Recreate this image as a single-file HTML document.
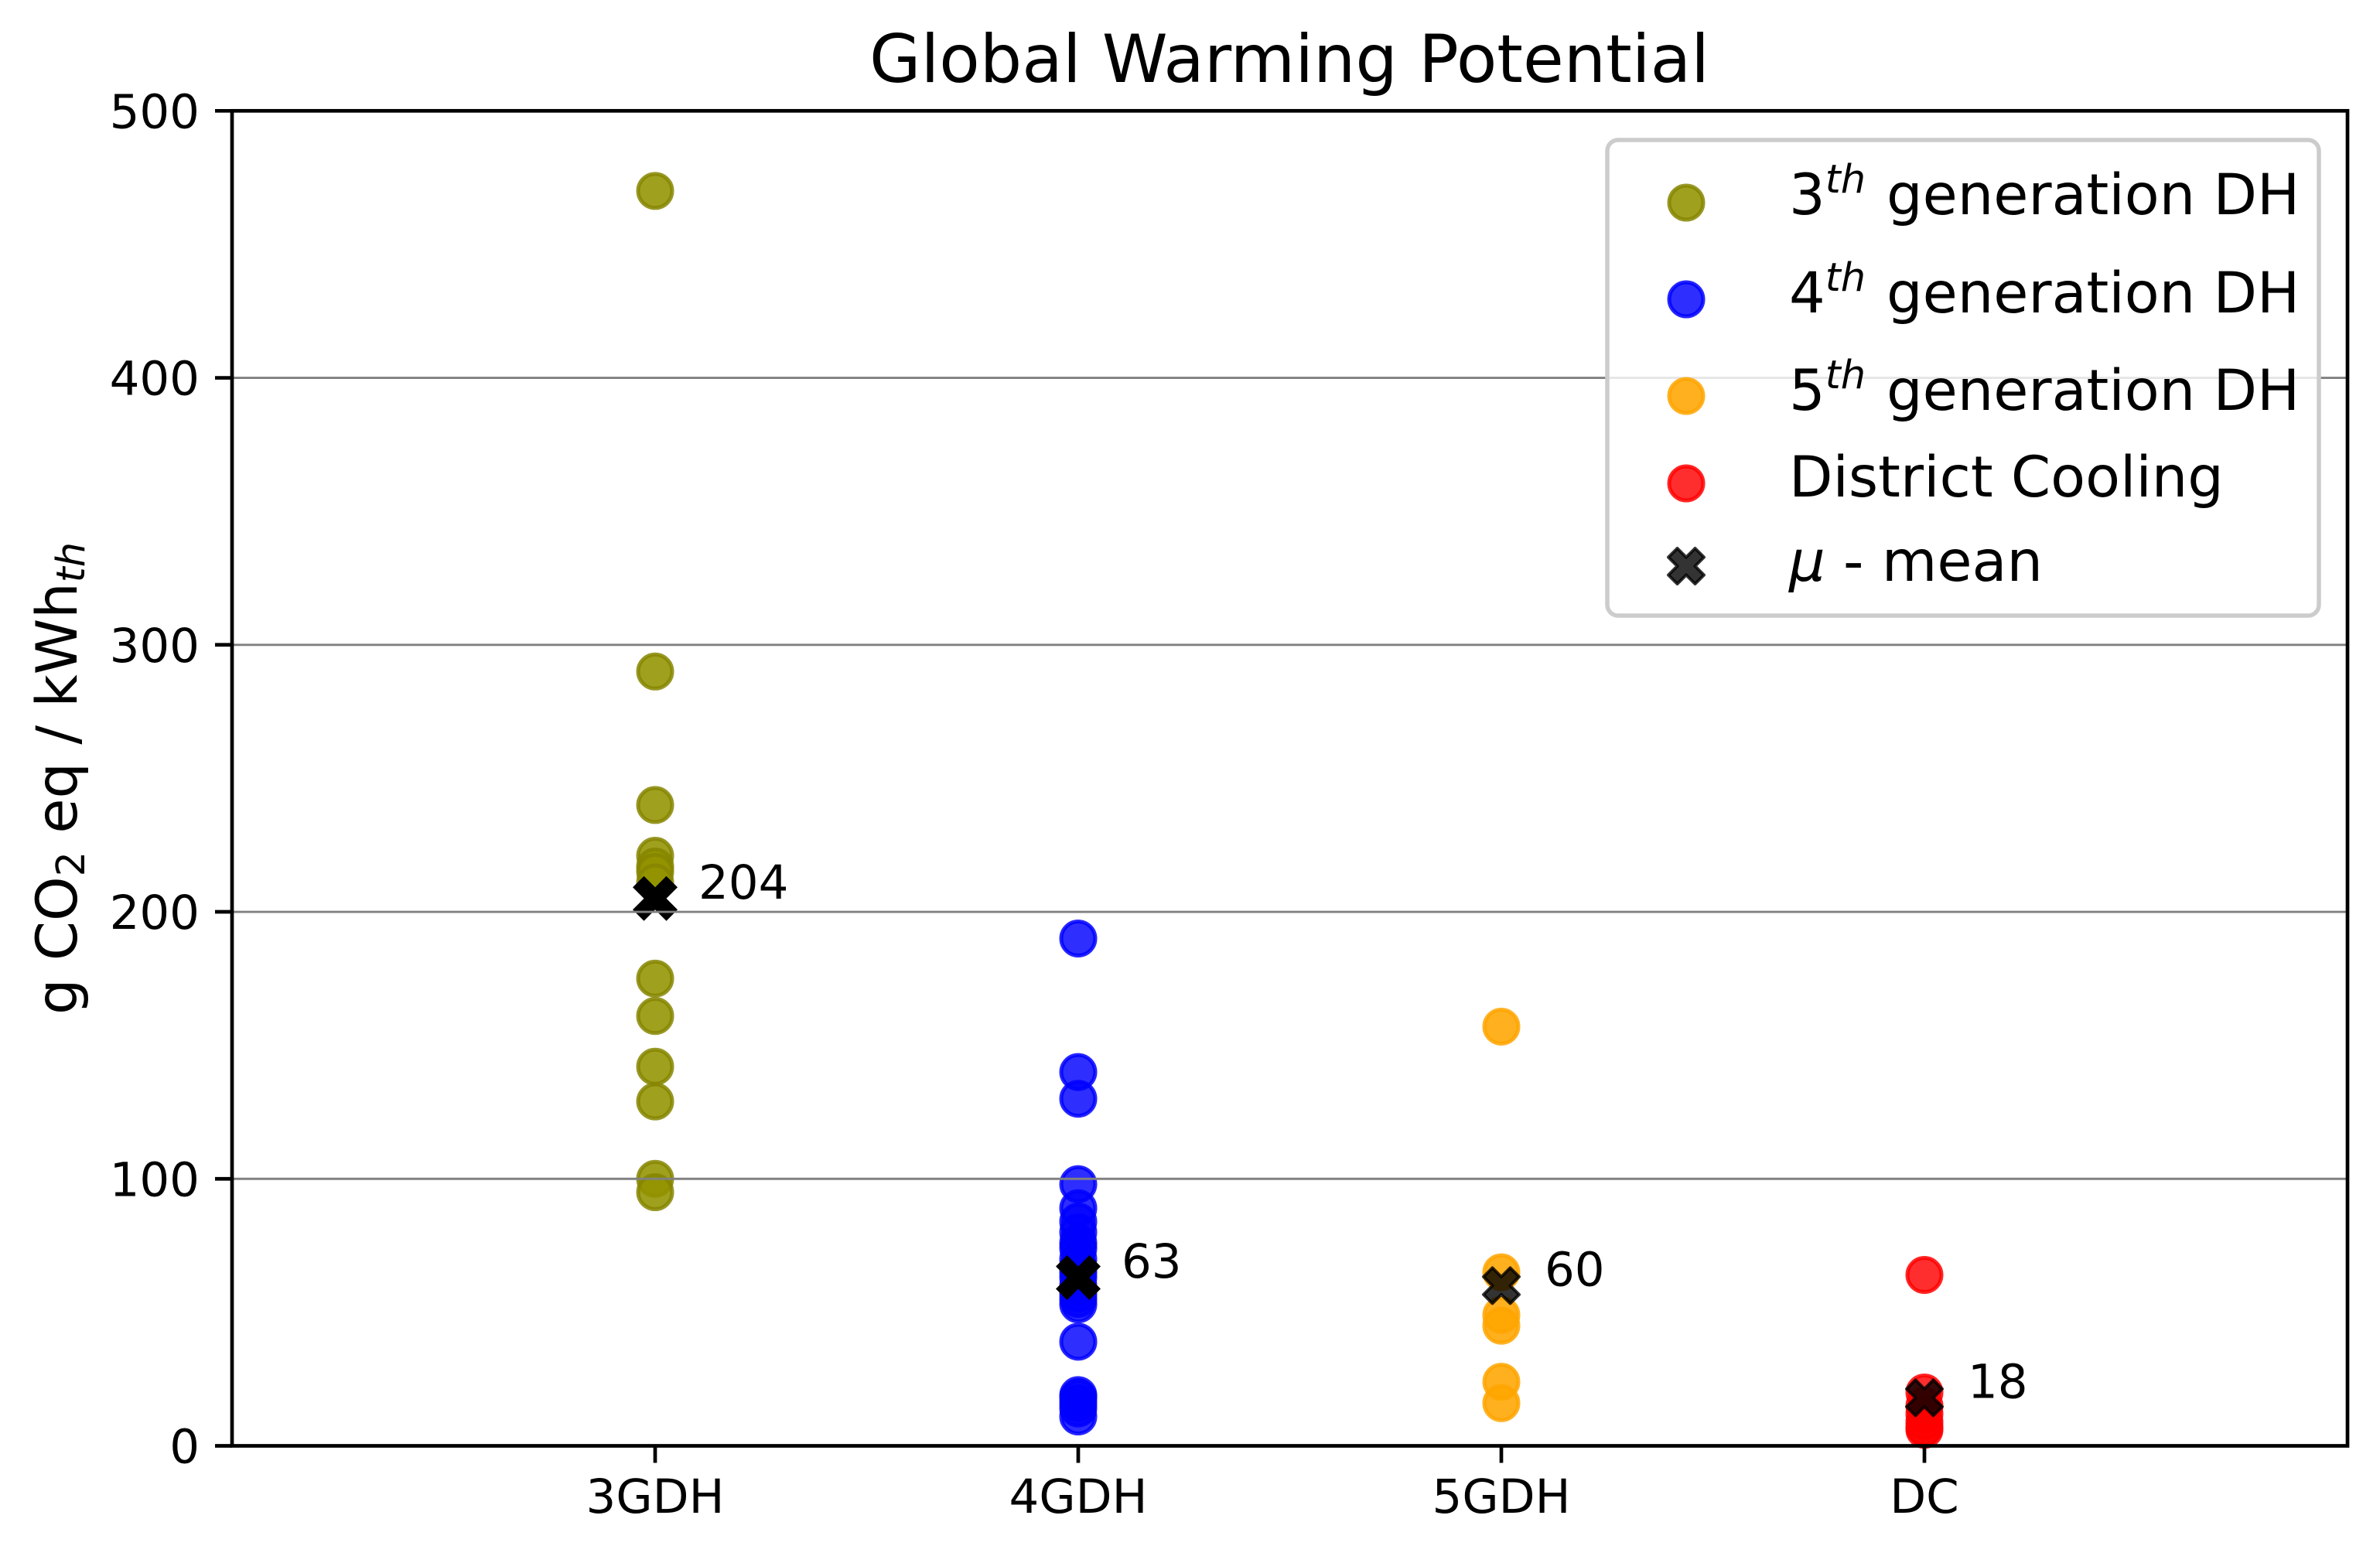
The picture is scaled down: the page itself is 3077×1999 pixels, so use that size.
<!DOCTYPE html>
<html lang="en">
<head>
<meta charset="utf-8">
<title>Global Warming Potential</title>
<style>
html,body{margin:0;padding:0;background:#fff;}
svg{display:block;font-family:"DejaVu Sans","Liberation Sans",sans-serif;}
</style>
</head>
<body>
<svg id="chart" xmlns="http://www.w3.org/2000/svg" width="3077" height="1999" viewBox="0 0 3077 1999">
  <rect x="0" y="0" width="3077" height="1999" fill="#ffffff"/>
  <g id="marks"></g>
  <g id="grid"></g>
  <g id="axes"></g>

  <text x="1667" y="106" font-size="85.8" text-anchor="middle">Global Warming Potential</text>
  <text transform="translate(99,1006.5) rotate(-90)" font-size="73.3" text-anchor="middle">g CO<tspan font-size="51" dy="10">2</tspan><tspan dy="-10"> eq / kWh</tspan><tspan font-size="51" font-style="italic" dy="10">th</tspan></text>

  <g id="legend">
    <rect x="2078" y="181" width="920" height="615" rx="14" ry="14" fill="#ffffff" fill-opacity="0.8" stroke="#cccccc" stroke-width="5.5"/>
    <g id="legend-markers"></g>
    <text x="2313" y="277" font-size="73.4">3<tspan font-size="51" font-style="italic" dy="-28">th</tspan><tspan x="2439" dy="28">generation DH</tspan></text>
    <text x="2313" y="404" font-size="73.4">4<tspan font-size="51" font-style="italic" dy="-28">th</tspan><tspan x="2439" dy="28">generation DH</tspan></text>
    <text x="2313" y="530" font-size="73.4">5<tspan font-size="51" font-style="italic" dy="-28">th</tspan><tspan x="2439" dy="28">generation DH</tspan></text>
    <text x="2313" y="642" font-size="73.4">District Cooling</text>
    <text x="2313" y="751" font-size="73.4"><tspan font-style="italic">μ</tspan> - mean</text>
  </g>
</svg>
<script>
const categories = ["3GDH", "4GDH", "5GDH", "DC"];
const yTicks = [0, 100, 200, 300, 400, 500];
const gridTicks = [100, 200, 300, 400];
const values3GDH = [470, 290, 240, 221, 217, 215, 211, 175, 161, 142, 129, 100, 95];
const values4GDH = [190, 140, 130, 98, 89, 84, 80, 76, 74, 70, 67, 65, 63, 60, 57, 55, 53, 39, 19, 18, 16, 14, 11];
const values5GDH = [157, 65, 49, 45, 24, 16];
const valuesDC = [64, 20, 15, 12, 9, 7, 6];
const meanValues = [205, 63, 60, 18];
const meanLabels = ["204", "63", "60", "18"];

const xDomain = [-1, 4];
const yDomain = [0, 500];
const plot = { left: 300, right: 3035, top: 143.3, bottom: 1869.5 };
const SVG_NS = "http://www.w3.org/2000/svg";

function xScale(v) {
  return plot.left + (v - xDomain[0]) / (xDomain[1] - xDomain[0]) * (plot.right - plot.left);
}
function yScale(v) {
  return plot.bottom - (v - yDomain[0]) / (yDomain[1] - yDomain[0]) * (plot.bottom - plot.top);
}
function make(tag, attrs) {
  const el = document.createElementNS(SVG_NS, tag);
  for (const k in attrs) el.setAttribute(k, attrs[k]);
  return el;
}
function circleAttrs(cx, cy, style) {
  return { cx: cx, cy: cy, r: 22, fill: style.fill, "fill-opacity": style.alpha, stroke: style.stroke, "stroke-opacity": 0.85, "stroke-width": 5 };
}
function xMarkerPath(cx, cy, size) {
  const u = size / 4;
  const shape = [[-1,-2],[0,-1],[1,-2],[2,-1],[1,0],[2,1],[1,2],[0,1],[-1,2],[-2,1],[-1,0],[-2,-1]];
  return "M" + shape.map(function (p) { return (cx + p[0] * u) + " " + (cy + p[1] * u); }).join("L") + "Z";
}

const marks = document.getElementById("marks");
const grid = document.getElementById("grid");
const axes = document.getElementById("axes");
const legendMarkers = document.getElementById("legend-markers");

const seriesStyles = [
  { fill: "#939300", alpha: 0.88, stroke: "#858500" },
  { fill: "#0000ff", alpha: 0.82, stroke: "#0000ff" },
  { fill: "#ffa500", alpha: 0.88, stroke: "#ffa500" },
  { fill: "#ff0000", alpha: 0.82, stroke: "#ff0000" }
];
const seriesSlugs = ["3gdh", "4gdh", "5gdh", "dc"];
const seriesValues = [values3GDH, values4GDH, values5GDH, valuesDC];
const meanMarkerSizes = [58, 58, 46, 46];
const meanMarkerOpacity = [1, 1, 0.8, 0.8];

seriesValues.forEach(function (vals, i) {
  vals.forEach(function (v) {
    const dot = make("circle", circleAttrs(xScale(i), yScale(v), seriesStyles[i]));
    
    
    marks.appendChild(dot);
  });
});

meanValues.forEach(function (m, i) {
  const cross = make("path", {
    d: xMarkerPath(xScale(i), yScale(m), meanMarkerSizes[i]),
    fill: "#000000",
    "fill-opacity": meanMarkerOpacity[i],
    stroke: "#000000",
    "stroke-opacity": meanMarkerOpacity[i],
    "stroke-width": i < 2 ? 0 : 4,
    "stroke-linejoin": "round"
  });
  
  
  marks.appendChild(cross);

  const label = make("text", { x: xScale(i) + 56, y: yScale(m), "font-size": 61 });
  label.textContent = meanLabels[i];
  
  
  marks.appendChild(label);
});

gridTicks.forEach(function (t) {
  const line = make("line", { x1: plot.left, x2: plot.right, y1: yScale(t), y2: yScale(t), stroke: "#808080", "stroke-width": 2.9 });
  
  
  grid.appendChild(line);
});

yTicks.forEach(function (t) {
  const tick = make("line", { x1: plot.left - 22, x2: plot.left, y1: yScale(t), y2: yScale(t), stroke: "#000000", "stroke-width": 4.7 });
  
  
  axes.appendChild(tick);

  const label = make("text", { x: 258, y: yScale(t) + 22, "font-size": 61, "text-anchor": "end" });
  label.textContent = String(t);
  
  
  axes.appendChild(label);
});

categories.forEach(function (c, i) {
  const tick = make("line", { x1: xScale(i), x2: xScale(i), y1: plot.bottom, y2: plot.bottom + 22, stroke: "#000000", "stroke-width": 4.7 });
  
  
  axes.appendChild(tick);

  const label = make("text", { x: xScale(i), y: 1956, "font-size": 61, "text-anchor": "middle" });
  label.textContent = c;
  
  
  axes.appendChild(label);
});

const frame = make("rect", { x: plot.left, y: plot.top, width: plot.right - plot.left, height: plot.bottom - plot.top, fill: "none", stroke: "#000000", "stroke-width": 4.7 });


axes.appendChild(frame);

const legendMarkerX = 2180;
[262, 387, 512, 625].forEach(function (ly, i) {
  const dot = make("circle", circleAttrs(legendMarkerX, ly, seriesStyles[i]));
  
  
  legendMarkers.appendChild(dot);
});
const legendCross = make("path", {
  d: xMarkerPath(legendMarkerX, 732, 46),
  fill: "#000000",
  "fill-opacity": 0.8,
  stroke: "#000000",
  "stroke-opacity": 0.8,
  "stroke-width": 4,
  "stroke-linejoin": "round"
});


legendMarkers.appendChild(legendCross);
</script>
</body>
</html>
